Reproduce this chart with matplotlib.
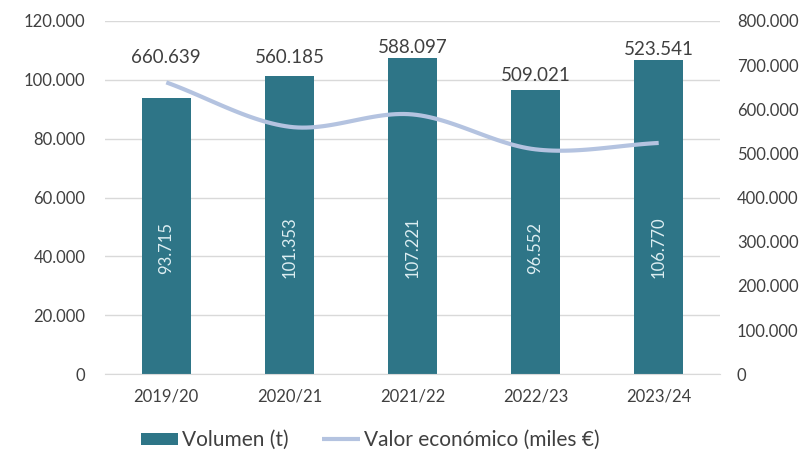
import numpy as np
import matplotlib.pyplot as plt
from matplotlib.ticker import FuncFormatter

plt.rcParams['font.family'] = ['Lato', 'DejaVu Sans']

# datos
campanas = ['2019/20', '2020/21', '2021/22', '2022/23', '2023/24']
volumen = [93715, 101353, 107221, 96552, 106770]
valor = [660639, 560185, 588097, 509021, 523541]

col_bar = '#2E7587'
col_line = '#B4C3E0'
col_txt = '#404040'


def miles(v, pos=None):
    return f'{int(round(v)):,}'.replace(',', '.')


def smooth(x, y, n=30):
    # curva suavizada tipo Catmull-Rom (como la linea suavizada de Excel)
    x = np.asarray(x, float)
    y = np.asarray(y, float)
    px = np.concatenate([[2 * x[0] - x[1]], x, [2 * x[-1] - x[-2]]])
    py = np.concatenate([[2 * y[0] - y[1]], y, [2 * y[-1] - y[-2]]])
    xs, ys = [], []
    t = np.linspace(0, 1, n)
    for i in range(1, len(px) - 2):
        for arr, out in ((px, xs), (py, ys)):
            p0, p1, p2, p3 = arr[i - 1], arr[i], arr[i + 1], arr[i + 2]
            out.append(0.5 * ((2 * p1) + (-p0 + p2) * t
                              + (2 * p0 - 5 * p1 + 4 * p2 - p3) * t ** 2
                              + (-p0 + 3 * p1 - 3 * p2 + p3) * t ** 3))
    return np.concatenate(xs), np.concatenate(ys)


fig = plt.figure(figsize=(8.12, 4.53), dpi=100)
ax = fig.add_axes([0.129, 0.174, 0.758, 0.78])
ax2 = ax.twinx()

x = np.arange(len(campanas))
ax.bar(x, volumen, width=0.4, color=col_bar, label='Volumen (t)', zorder=2)
ax.set_ylim(0, 120000)
ax.set_yticks(np.arange(0, 120001, 20000))
ax.yaxis.set_major_formatter(FuncFormatter(miles))
ax.set_xlim(-0.5, len(campanas) - 0.5)
ax.set_xticks(x)
ax.set_xticklabels(campanas)
ax.grid(axis='y', color='#D9D9D9', linewidth=1, zorder=0)
ax.set_axisbelow(True)

sx, sy = smooth(x, valor)
ax2.plot(sx, sy, color=col_line, linewidth=3, solid_capstyle='butt',
         label='Valor económico (miles €)', zorder=3)
ax2.set_ylim(0, 800000)
ax2.set_yticks(np.arange(0, 800001, 100000))
ax2.yaxis.set_major_formatter(FuncFormatter(miles))

for a in (ax, ax2):
    for s in a.spines.values():
        s.set_visible(False)
    a.tick_params(length=0, labelsize=12, colors=col_txt)
ax.spines['bottom'].set_visible(True)
ax.spines['bottom'].set_color('#D9D9D9')
ax.tick_params(axis='x', pad=10)
ax.tick_params(axis='y', pad=14)
ax2.tick_params(axis='y', pad=12)

# etiquetas dentro de las barras
for xi, v in zip(x, volumen):
    ax.text(xi, 43000, miles(v), rotation=90, ha='center', va='center',
            color='#DDEEF2', fontsize=12, zorder=4)

# etiquetas del valor económico (colocadas sobre las barras)
desplaz = [23, 7, 2, 4, 1]
for xi, v, h, d in zip(x, volumen, valor, desplaz):
    ax.annotate(miles(h), (xi, v), xytext=(0, d), textcoords='offset points',
                ha='center', va='bottom', fontsize=13.5, color=col_txt, zorder=4)

h1, l1 = ax.get_legend_handles_labels()
h2, l2 = ax2.get_legend_handles_labels()
fig.legend(h1 + h2, l1 + l2, loc='lower center', bbox_to_anchor=(0.456, -0.035),
           ncol=2, frameon=False, fontsize=15, handlelength=1.8,
           handleheight=0.5, columnspacing=1.6, handletextpad=0.2,
           labelcolor=col_txt)

fig.savefig('out.png', dpi=100)
